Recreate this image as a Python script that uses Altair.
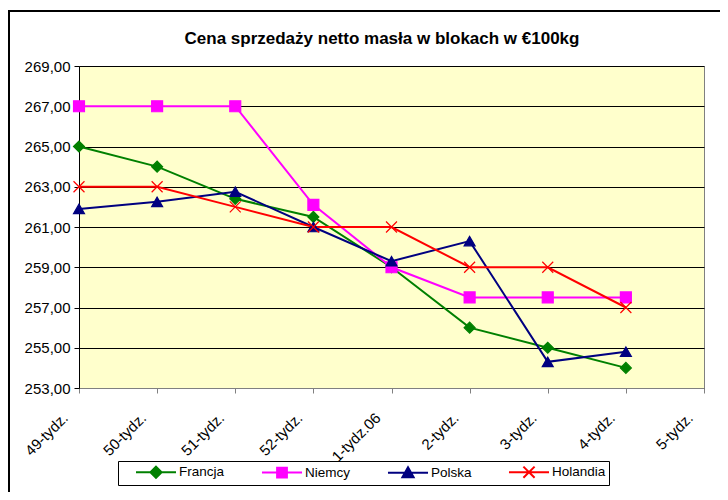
import altair as alt
import pandas as pd

weeks = ["49-tydz.", "50-tydz.", "51-tydz.", "52-tydz.", "1-tydz.06",
         "2-tydz.", "3-tydz.", "4-tydz.", "5-tydz."]
series = ["Francja", "Niemcy", "Polska", "Holandia"]
colors = ["#008000", "#FF00FF", "#000080", "#FF0000"]
francja = [265.0, 264.0, 262.4, 261.5, 259.0, 256.0, 255.0, 254.0, None]
niemcy = [267.0, 267.0, 267.0, 262.1, 259.0, 257.5, 257.5, 257.5, None]
polska = [261.9, 262.25, 262.75, 261.0, 259.3, 260.3, 254.3, 254.8, None]
holandia = [263.0, 263.0, 262.0, 261.0, 261.0, 259.0, 259.0, 257.0, None]
y_ticks = [253, 255, 257, 259, 261, 263, 265, 267, 269]
title_text = "Cena sprzedaży netto masła w blokach w €100kg"

rows = []
for name, vals in zip(series, [francja, niemcy, polska, holandia]):
    for i, (w, v) in enumerate(zip(weeks, vals)):
        if v is not None:
            rows.append({"seria": name, "tydz": w, "idx": i, "cena": v})
df = pd.DataFrame(rows)

FONT = "Liberation Sans"
x_marker = "M-1,-1L1,1M-1,1L1,-1"
shapes = ["diamond", "square", "triangle-up", x_marker]
# legend symbols (unit = 7px): a 40px line segment with the marker in its middle
leg_shapes = [
    "M-2.86,0L2.86,0M0,-0.8L0.8,0L0,0.8L-0.8,0Z",
    "M-2.86,0L2.86,0M-0.7,-0.7L0.7,-0.7L0.7,0.7L-0.7,0.7Z",
    "M-2.86,0L2.86,0M0,-0.78L0.8,0.62L-0.8,0.62Z",
    "M-2.86,0L2.86,0M-0.8,-0.8L0.8,0.8M-0.8,0.8L0.8,-0.8",
]

legend = alt.Legend(
    orient="none", legendX=39, legendY=395, direction="horizontal",
    title=None, fillColor="white", strokeColor="black", padding=3,
    symbolOffset=27, labelOffset=15, columnPadding=22,
    labelFontSize=13.5, labelFont=FONT, labelColor="black",
    symbolSize=196, symbolStrokeWidth=2, symbolOpacity=1,
)

x_enc = alt.X(
    "tydz:N",
    sort=weeks,
    scale=alt.Scale(type="point", domain=weeks, padding=0),
    axis=alt.Axis(
        title=None, grid=False, labelAngle=-45, labelAlign="right",
        labelBaseline="middle", labelPadding=22, labelOffset=-14,
        labelFontSize=15, labelFont=FONT, labelColor="black",
        domainColor="#808080", tickColor="#808080", tickSize=5,
    ),
)
y_enc = alt.Y(
    "cena:Q",
    scale=alt.Scale(domain=[253, 269], nice=False, zero=False),
    axis=alt.Axis(
        title=None, values=y_ticks,
        labelExpr="replace(format(datum.value, '.2f'), '.', ',')",
        labelFontSize=15, labelFont=FONT, labelColor="black", labelPadding=4,
        domainColor="black", tickColor="black", tickSize=5,
        grid=True, gridColor="black", gridOpacity=1, gridWidth=1,
    ),
)
color_scale = alt.Scale(domain=series, range=colors)

base = alt.Chart(df)
line_layers = []
point_layers = []
for s, c, shp in zip(series, colors, shapes):
    sub = base.transform_filter(alt.datum.seria == s)
    line_layers.append(
        sub.mark_line(strokeWidth=2, color=c).encode(
            x=x_enc, y=y_enc, order=alt.Order("idx:Q")
        )
    )
    point_layers.append(
        sub.mark_point(filled=True, opacity=1, strokeWidth=1.2, size=120,
                       shape=shp, fill=c, stroke=c).encode(x=x_enc, y=y_enc)
    )

# legend-only layer (drawn off-canvas); it supplies the legend symbols
legdf = pd.DataFrame({"seria": series})
legend_layer = alt.Chart(legdf).mark_point(filled=True, opacity=1, strokeWidth=2, size=196).encode(
    x=alt.value(-3000), y=alt.value(-3000),
    color=alt.Color("seria:N", scale=color_scale, legend=legend),
    stroke=alt.Stroke("seria:N", scale=color_scale, legend=legend),
    shape=alt.Shape("seria:N", scale=alt.Scale(domain=series, range=leg_shapes), legend=legend),
)

one = pd.DataFrame({"k": [0]})
frame = alt.Chart(one).mark_rect(fill="transparent", stroke="black", strokeWidth=2).encode(
    x=alt.value(-70), x2=alt.value(700), y=alt.value(-55), y2=alt.value(500)
)
title = alt.Chart(one).mark_text(
    text=title_text, font=FONT, fontSize=17, fontWeight="bold",
    align="center", baseline="alphabetic", color="black",
).encode(x=alt.value(303), y=alt.value(-22))

chart = alt.layer(frame, title, *line_layers, *point_layers, legend_layer).properties(
    width=625, height=322,
    autosize=alt.AutoSizeParams(type="none"),
    padding={"left": 71, "top": 58, "right": 16, "bottom": 104},
).configure_view(fill="#FFFFCC", stroke="#808080", strokeWidth=1)

chart.save("out.html", embed_options={"renderer": "svg", "actions": False})
